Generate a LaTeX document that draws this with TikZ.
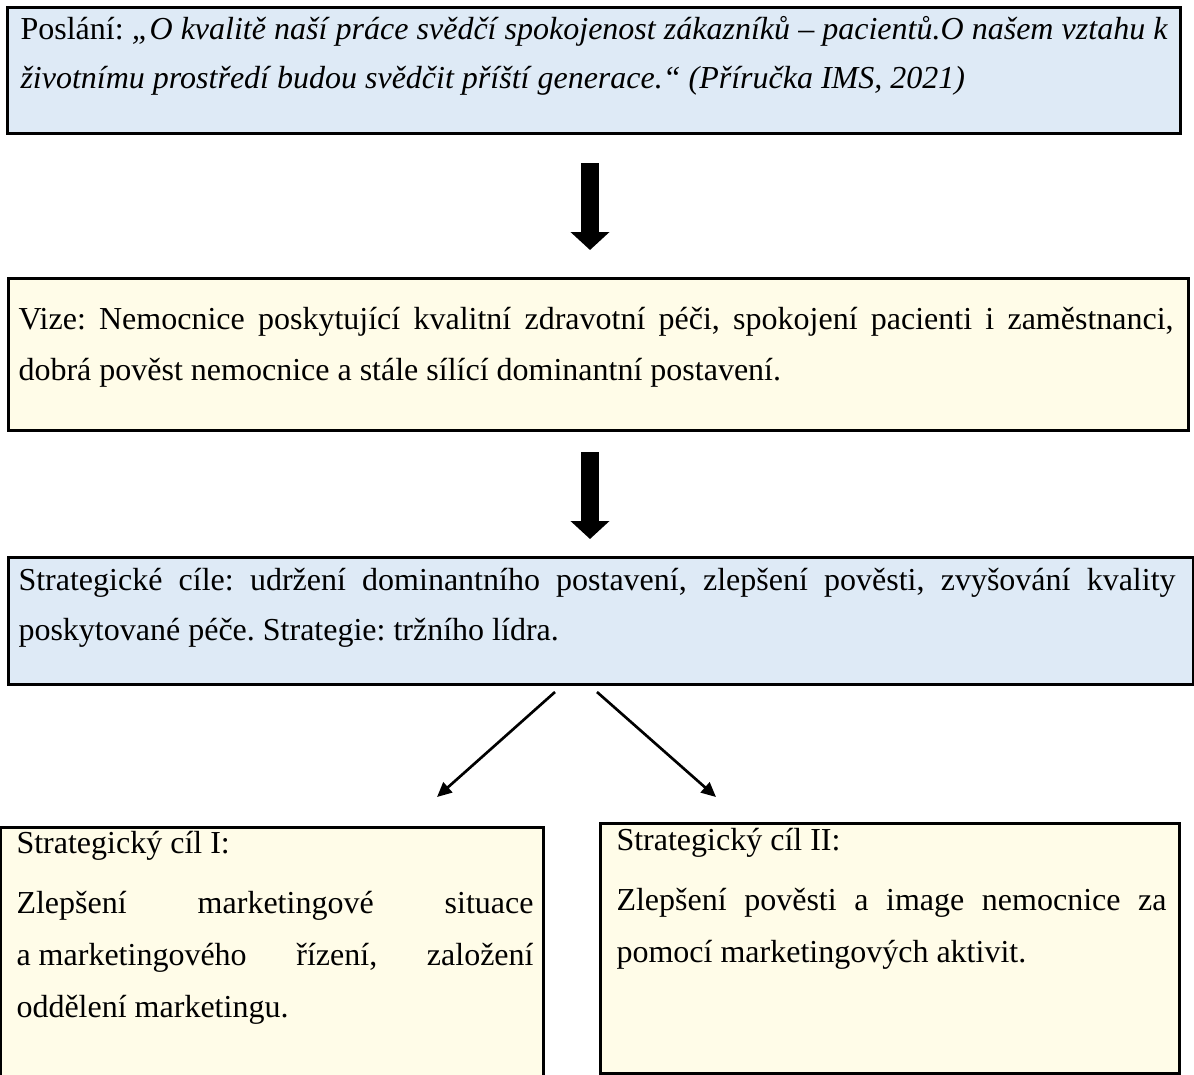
\documentclass[tikz,border=0pt]{standalone}
\usepackage{fontspec}
\setmainfont{Liberation Serif}
\usetikzlibrary{arrows.meta,fit}
\definecolor{boxblue}{HTML}{DEEAF6}
\definecolor{boxcream}{HTML}{FFFCE8}
\frenchspacing
\newlength\pxu
\setlength\pxu{0.375pt}
% one text block: lines stacked at a fixed baseline distance
\newcommand\textlines[2]{\vtop{\lineskiplimit=-20pt\baselineskip=#1\pxu #2}}
\newcommand\jline[2]{\hbox to #1\pxu{#2}}
\newcommand\fline[1]{\hbox{#1}}
\begin{document}
\begin{tikzpicture}[x=0.375pt,y=-0.375pt,
  panel/.style={draw=black,line width=1.125pt,inner sep=0pt},
  bluepanel/.style={panel,fill=boxblue},
  creampanel/.style={panel,fill=boxcream},
  txt/.style={anchor=base west,inner sep=0pt,font=\fontsize{12pt}{14pt}\selectfont},
  blockarrow/.style={line width=6.75pt,-{Triangle[length=6.75pt,width=14.25pt]}},
  thinarrow/.style={line width=1pt,-{Triangle[length=5.5pt,width=5pt]}}]
\useasboundingbox (0,0) rectangle (1194,1075);

% mission
\node[bluepanel,fit={(7,7) (1180,133)}] (mission) {};
\node[txt] (missiontext) at (20,39) {\textlines{49}{%
  \jline{1147}{Poslání: \itshape „O kvalitě naší práce svědčí spokojenost zákazníků – pacientů.O našem vztahu k}%
  \fline{\itshape životnímu prostředí budou svědčit příští generace.“ (Příručka IMS, 2021)}}};

% vision
\node[creampanel,fit={(8,278) (1188,430)}] (vision) {};
\node[txt] (visiontext) at (18,329) {\textlines{51}{%
  \jline{1155}{Vize: Nemocnice poskytující kvalitní zdravotní péči, spokojení pacienti i zaměstnanci,}%
  \fline{dobrá pověst nemocnice a stále sílící dominantní postavení.}}};

% strategic goals
\node[bluepanel,fit={(8,557) (1193,684)}] (goals) {};
\node[txt] (goalstext) at (18,590) {\textlines{50}{%
  \jline{1157}{Strategické cíle: udržení dominantního postavení, zlepšení pověsti, zvyšování kvality}%
  \fline{poskytované péče. Strategie: tržního lídra.}}};

% goal I
\node[creampanel,fit={(1,827) (543,1095)}] (goalone) {};
\node[txt] (goalonetext) at (16,853) {\textlines{52}{%
  \fline{Strategický cíl I:}\vskip8\pxu
  \jline{517}{Zlepšení marketingové situace}%
  \jline{517}{a\hspace{0.25em}marketingového řízení, založení}%
  \fline{oddělení marketingu.}}};

% goal II
\node[creampanel,fit={(600,823) (1179,1073)}] (goaltwo) {};
\node[txt] (goaltwotext) at (616,850) {\textlines{52}{%
  \fline{Strategický cíl II:}\vskip8\pxu
  \jline{550}{Zlepšení pověsti a image nemocnice za}%
  \fline{pomocí marketingových aktivit.}}};

% connectors
\coordinate (arrAtop) at (590,163);
\coordinate (arrAtip) at (590,250);
\coordinate (arrBtop) at (590,452);
\coordinate (arrBtip) at (590,539);
\draw[blockarrow] (arrAtop) -- (arrAtip);
\draw[blockarrow] (arrBtop) -- (arrBtip);

\coordinate (splitL) at (555,692);
\coordinate (splitR) at (597,692);
\coordinate (tipL) at (437,797);
\coordinate (tipR) at (716,797);
\draw[thinarrow] (splitL) -- (tipL);
\draw[thinarrow] (splitR) -- (tipR);
\end{tikzpicture}
\end{document}
